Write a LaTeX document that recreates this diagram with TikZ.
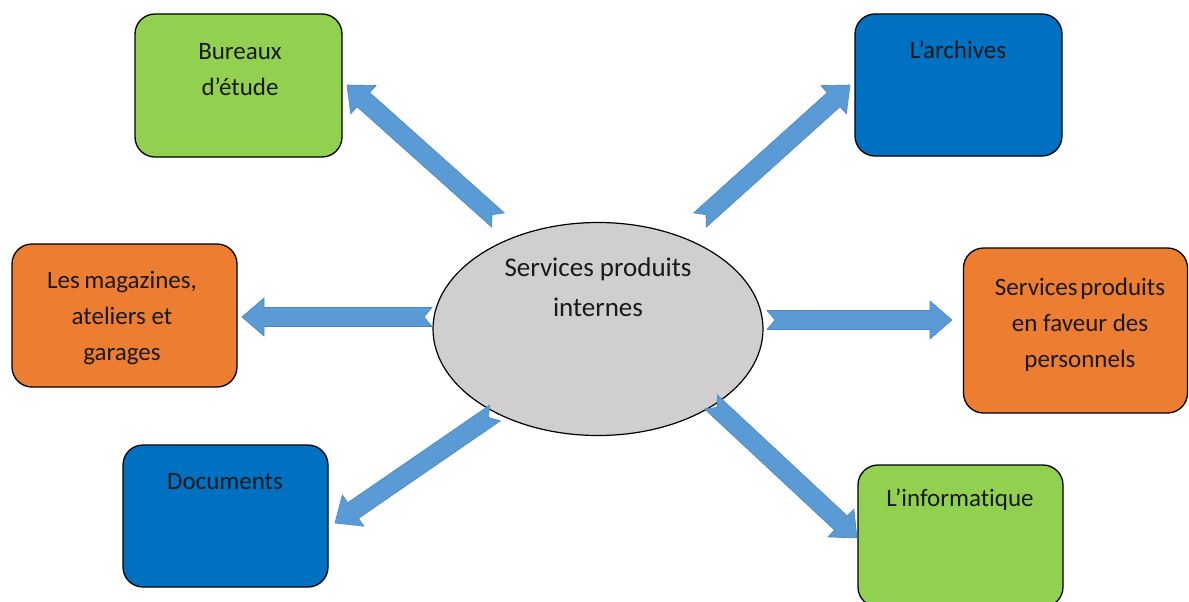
\documentclass[tikz,border=0pt]{standalone}
\usepackage{fontspec}
\setmainfont[Ligatures=NoCommon]{Carlito}
\usetikzlibrary{calc,shapes.geometric}
\definecolor{bgreen}{HTML}{92D050}
\definecolor{bblue}{HTML}{0070C0}
\definecolor{borange}{HTML}{ED7D31}
\definecolor{egray}{HTML}{D0CECE}
\definecolor{afill}{HTML}{5B9BD5}
\definecolor{aline}{HTML}{4A86C0}
\newcommand{\blockarrow}[2]{%
  \coordinate (bah) at ($(#2)!22pt!(#1)$);
  \filldraw[arrowstyle]
    ($(#1)!9.5pt!90:(#2)$) -- ($(bah)!9.5pt!90:(#2)$) -- ($(bah)!19pt!90:(#2)$) -- (#2)
    -- ($(bah)!19pt!-90:(#2)$) -- ($(bah)!9.5pt!-90:(#2)$) -- ($(#1)!9.5pt!-90:(#2)$)
    -- ($(#1)!8pt!(#2)$) -- cycle;}
\tikzset{
  box/.style={draw=black, line width=1.3pt, rounded corners=20pt, inner sep=0pt},
  txt/.style={align=center, inner sep=0pt, text=black!90, font=\fontsize{25}{36}\selectfont},
  arrowstyle/.style={fill=afill, draw=aline, line width=0.6pt, line join=miter},
}
\begin{document}
\begin{tikzpicture}[x=1pt,y=-1pt]
\useasboundingbox (0,0) rectangle (1189,602);
\begin{scope}
\clip (0,0) rectangle (1189,602);
% boxes
\node[box, fill=bgreen, minimum width=207pt, minimum height=143pt] (b1) at (238.5,85.5) {};
\node[box, fill=bblue, minimum width=207pt, minimum height=142pt] (b2) at (958.5,85) {};
\node[box, fill=borange, minimum width=225pt, minimum height=143pt] (b3) at (124.5,315.5) {};
\node[box, fill=borange, minimum width=224pt, minimum height=165pt] (b4) at (1075.5,330.5) {};
\node[box, fill=bblue, minimum width=205pt, minimum height=142pt] (b5) at (225.5,516) {};
\node[box, fill=bgreen, minimum width=205pt, minimum height=142pt] (b6) at (960.5,536) {};
\end{scope}
% labels
\node[txt] (l1) at (240,70) {Bureaux\\d’étude};
\node[txt] (l2) at (958,50) {L’archives};
\node[txt] (l3) at (122,318) {Les\kern-1pt\ magazines,\\ateliers et\\garages};
\node[txt] (l4) at (1080,325) {Services\kern-3pt\ produits\\en faveur des\\personnels};
\node[txt] (l5) at (225,482) {Documents};
\node[txt] (l6) at (960,500) {L’informatique};
% central ellipse
\node[ellipse, draw=black, line width=1.2pt, fill=egray, minimum width=330pt, minimum height=213pt, inner sep=0pt] (c) at (598,329) {};
\node[txt, font=\fontsize{27}{40}\selectfont] (lc) at (598,287) {Services produits\\internes};
% arrow end points
\coordinate (s1) at (498,220); \coordinate (t1) at (347,85);
\coordinate (s2) at (700,220); \coordinate (t2) at (850,85);
\coordinate (s3) at (432,317); \coordinate (t3) at (242,317);
\coordinate (s4) at (767,320); \coordinate (t4) at (952,320);
\coordinate (s5) at (495,413); \coordinate (t5) at (335,523);
\coordinate (s6) at (711,402); \coordinate (t6) at (857,538);
\blockarrow{s1}{t1}
\blockarrow{s2}{t2}
\blockarrow{s3}{t3}
\blockarrow{s4}{t4}
\blockarrow{s5}{t5}
\blockarrow{s6}{t6}
\end{tikzpicture}
\end{document}
